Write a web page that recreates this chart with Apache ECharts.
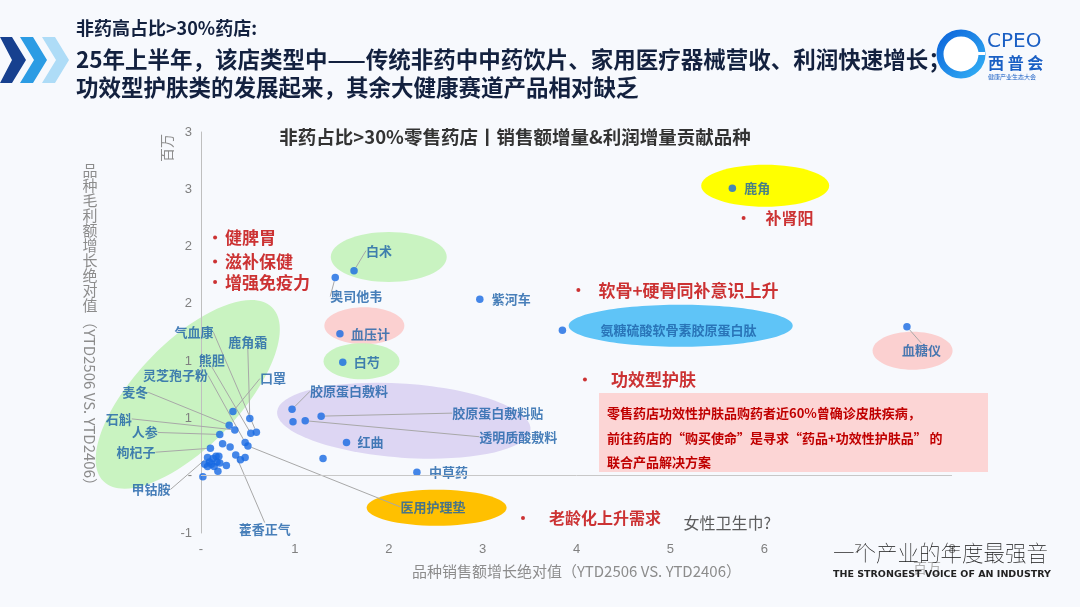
<!DOCTYPE html>
<html>
<head>
<meta charset="utf-8">
<script src="https://cdn.jsdelivr.net/npm/echarts@6/dist/echarts.min.js"></script>
<style>
  html, body { margin: 0; padding: 0; background: #f7f9fd; }
  #chart { width: 1080px; height: 607px; }
</style>
</head>
<body>
<div id="chart"></div>
<script>
// 品种：销售额增长（百万） / 毛利额增长（百万）
const productNames = [
  '鹿角', '白术', '奥司他韦', '紫河车', '血压计', '白芍', '氨糖硫酸软骨素胶原蛋白肽', '血糖仪',
  '中草药', '红曲', '', '胶原蛋白敷料', '', '透明质酸敷料', '胶原蛋白敷料贴',
  '口罩', '鹿角霜', '麦冬', '石斛', '人参', '熊胆', '气血康', '', '', '灵芝孢子粉', '医用护理垫',
  '枸杞子', '藿香正气', '', '', '', '', '甲钴胺', '', '', '', '', '', '', '', '', '', '', ''
];
const salesGrowth = [
  5.66, 1.63, 1.43, 2.97, 1.48, 1.51, 3.85, 7.52,
  2.30, 1.55, 1.30, 0.97, 0.98, 1.11, 1.28,
  0.34, 0.52, 0.30, 0.36, 0.20, 0.53, 0.59, 0.23, 0.31, 0.47, 0.50,
  0.10, 0.37, 0.47, 0.42, 0.27, 0.19, 0.07, 0.13, 0.17, 0.09, 0.04, 0.14, 0.18, 0.11, 0.16, 0.02, 0.07, 0.20
];
const profitGrowth = [
  2.51, 1.79, 1.73, 1.54, 1.24, 0.99, 1.27, 1.30,
  0.03, 0.29, 0.15, 0.58, 0.47, 0.48, 0.52,
  0.56, 0.50, 0.44, 0.40, 0.36, 0.37, 0.38, 0.28, 0.25, 0.29, 0.26,
  0.24, 0.18, 0.16, 0.14, 0.09, 0.17, 0.16, 0.15, 0.12, 0.12, 0.10, 0.08, 0.04, 0.10, 0.17, -0.01, 0.08, 0.11
];

// 红色注释
const noteTexts = ['健脾胃', '滋补保健', '增强免疫力', '补肾阳', '软骨+硬骨同补意识上升', '功效型护肤', '老龄化上升需求', '女性卫生巾?'];
const noteX = [0.15, 0.15, 0.15, 5.78, 4.02, 4.09, 3.43, 5.14];
const noteY = [2.08, 1.87, 1.69, 2.25, 1.62, 0.84, -0.37, -0.41];

// 刻度标签（Excel 四舍五入显示）
const xTickLabels = ['-', '1', '2', '3', '4', '5', '6', '7', '8'];
const yTickLabels = ['-1', '-', '1', '1', '2', '2', '3', '3'];

// 标签相对点的位置 [dx, dy, 对齐, 引导线]
const labelOffsets = {
  '鹿角': [12, 0, 'left'],
  '白术': [12, -20, 'left', true],
  '奥司他韦': [21, 19, 'center', true],
  '紫河车': [12, 0, 'left'],
  '血压计': [11, 0, 'left'],
  '白芍': [11, 0, 'left'],
  '氨糖硫酸软骨素胶原蛋白肽': [116, 0, 'center'],
  '血糖仪': [-5, 23, 'left', true],
  '中草药': [12, 0, 'left'],
  '红曲': [11, 0, 'left'],
  '胶原蛋白敷料': [18, -18, 'left', true],
  '胶原蛋白敷料贴': [131, -3, 'left', true],
  '透明质酸敷料': [174, 16, 'left', true],
  '口罩': [27, -33, 'left', true],
  '鹿角霜': [-2, -76, 'center', true],
  '熊胆': [-26, -73, 'right', true],
  '气血康': [-43, -100, 'right', true],
  '灵芝孢子粉': [-37, -67, 'right', true],
  '麦冬': [-81, -33, 'right', true],
  '石斛': [-103, -11, 'right', true],
  '人参': [-62, -2, 'right', true],
  '枸杞子': [-55, 4, 'right', true],
  '甲钴胺': [-37, 32, 'right', true],
  '藿香正气': [29, 74, 'center', true],
  '医用护理垫': [185, 61, 'center', true]
};

// 高亮椭圆：中心用数据坐标，半径为像素
const highlights = [
  { x: -0.14, y: 0.71, rx: 121, ry: 52, rot: 46, color: '#c9f3c1' },
  { x: 6.01, y: 2.53, rx: 64, ry: 21, color: '#ffff00' },
  { x: 2.00, y: 1.91, rx: 58, ry: 25, color: '#c9f3c1' },
  { x: 1.74, y: 1.31, rx: 40, ry: 18.5, color: '#fbd0d0' },
  { x: 1.71, y: 1.00, rx: 38, ry: 18, color: '#c9f3c1' },
  { x: 5.11, y: 1.31, rx: 112, ry: 21, color: '#5fc4f7' },
  { x: 7.58, y: 1.09, rx: 40, ry: 19, color: '#fbd0d0' },
  { x: 2.16, y: 0.48, rx: 127, ry: 37, rot: -4, color: '#ddd6f3' },
  { x: 2.51, y: -0.28, rx: 70, ry: 18, color: '#ffc000' }
];

const noteLayout = {
  '健脾胃': { distance: 8, fontSize: 17 },
  '滋补保健': { distance: 8, fontSize: 17 },
  '增强免疫力': { distance: 8, fontSize: 17 },
  '补肾阳': { distance: 20, fontSize: 16 },
  '软骨+硬骨同补意识上升': { distance: 18, fontSize: 17 },
  '功效型护肤': { distance: 24, fontSize: 17 },
  '老龄化上升需求': { distance: 24, fontSize: 16 }
};

const CJK = "'Noto Sans CJK SC', sans-serif";
const NUM = "'Liberation Sans', 'Noto Sans CJK SC', sans-serif";

let chart = echarts.init(document.getElementById('chart'));

let productData = productNames.map((n, i) => {
  let off = labelOffsets[n];
  return {
    name: n,
    value: [salesGrowth[i], profitGrowth[i]],
    label: { show: !!n },
    labelLine: { show: !!(off && off[3]) }
  };
});

let noteData = noteTexts.map((t, i) => {
  let lay = noteLayout[t];
  if (!lay) {
    // 无圆点的灰色提示
    return {
      name: t, value: [noteX[i], noteY[i]], symbolSize: 0,
      label: { distance: 0, fontSize: 16, fontWeight: 'normal', color: '#333' }
    };
  }
  return {
    name: t, value: [noteX[i], noteY[i]],
    label: { distance: lay.distance, fontSize: lay.fontSize }
  };
});

let option = {
  backgroundColor: '#f7f9fd',
  animation: false,
  grid: { left: 201, right: 128, top: 132, bottom: 74 },
  xAxis: {
    type: 'value', min: 0, max: 8, interval: 1, z: 3,
    axisLine: { show: false },
    axisTick: { show: false },
    splitLine: { show: false },
    axisLabel: {
      color: '#808080', fontSize: 13, fontFamily: NUM, margin: 10,
      formatter: v => xTickLabels[Math.round(v)]
    },
    name: '品种销售额增长绝对值（YTD2506 VS. YTD2406）',
    nameLocation: 'middle', nameGap: 31,
    nameTextStyle: { color: '#8c8c8c', fontSize: 15, fontFamily: CJK }
  },
  yAxis: {
    type: 'value', min: -0.5, max: 3, interval: 0.5, z: 3,
    axisLine: { show: true, onZero: false, lineStyle: { color: '#bfbfbf', width: 1 } },
    axisTick: { show: false },
    splitLine: { show: false },
    axisLabel: {
      color: '#808080', fontSize: 13, fontFamily: NUM, margin: 9,
      formatter: v => yTickLabels[Math.round((v + 0.5) / 0.5)]
    }
  },
  series: [
    {
      type: 'custom',
      name: 'highlights',
      z: 1, silent: true, clip: false,
      data: highlights.map(h => [h.x, h.y]),
      renderItem(params, api) {
        let h = highlights[params.dataIndex];
        let c = api.coord([api.value(0), api.value(1)]);
        return {
          type: 'ellipse',
          x: c[0], y: c[1],
          rotation: (h.rot || 0) * Math.PI / 180,
          shape: { cx: 0, cy: 0, rx: h.rx, ry: h.ry },
          style: { fill: h.color }
        };
      }
    },
    {
      type: 'scatter',
      name: 'products',
      z: 4,
      symbolSize: 7.5,
      itemStyle: { color: '#1669e2' },
      data: productData,
      label: {
        show: true, position: 'right', formatter: '{b}',
        color: '#1c60a8', fontSize: 13, fontWeight: 'bold', fontFamily: CJK
      },
      labelLine: { show: false, lineStyle: { color: '#a8a8a8', width: 1 } },
      labelLayout(p) {
        let off = labelOffsets[productNames[p.dataIndex]];
        if (!off) return {};
        let cx = p.rect.x + p.rect.width / 2;
        let cy = p.rect.y + p.rect.height / 2;
        return { x: cx + off[0], y: cy + off[1], align: off[2], verticalAlign: 'middle' };
      },
      markLine: {
        silent: true, symbol: 'none', animation: false,
        label: { show: false },
        lineStyle: { color: '#c8c8c8', type: 'solid', width: 1 },
        data: [{ yAxis: 0 }]
      }
    },
    {
      type: 'scatter',
      name: 'notes',
      z: 4, silent: true,
      symbolSize: 4,
      itemStyle: { color: '#c00000' },
      data: noteData,
      label: {
        show: true, position: 'right', formatter: '{b}',
        color: '#c00000', fontWeight: 'bold', fontFamily: CJK
      }
    }
  ],
  graphic: [
    // 左侧箭头
    { type: 'polygon', shape: { points: [[0, 37], [12, 37], [26, 60], [12, 83], [0, 83], [12, 60]] }, style: { fill: '#17408f' } },
    { type: 'polygon', shape: { points: [[20, 37], [33, 37], [47, 60], [33, 83], [20, 83], [34, 60]] }, style: { fill: '#2c9ce4' } },
    { type: 'polygon', shape: { points: [[42, 37], [55, 37], [69, 60], [55, 83], [42, 83], [56, 60]] }, style: { fill: '#aedcf7' } },
    // 标题
    { type: 'text', x: 76, y: 28, style: { text: '非药高占比>30%药店:', fontSize: 18, fontWeight: 'bold', fontFamily: CJK, fill: '#13213f', verticalAlign: 'middle' } },
    { type: 'text', x: 76, y: 59, style: { text: '25年上半年，该店类型中——传统非药中中药饮片、家用医疗器械营收、利润快速增长；', fontSize: 22.5, fontWeight: 'bold', fontFamily: CJK, fill: '#13213f', verticalAlign: 'middle' } },
    { type: 'text', x: 76, y: 87, style: { text: '功效型护肤类的发展起来，其余大健康赛道产品相对缺乏', fontSize: 22.5, fontWeight: 'bold', fontFamily: CJK, fill: '#13213f', verticalAlign: 'middle' } },
    // 徽标
    { type: 'circle', shape: { cx: 961, cy: 54, r: 21 }, z: 10, style: { fill: '#ffffff', stroke: new echarts.graphic.LinearGradient(0, 0, 1, 1, [{ offset: 0, color: '#0a5fd8' }, { offset: 1, color: '#35b4f7' }]), lineWidth: 7 } },
    { type: 'rect', shape: { x: 961, y: 52, width: 24, height: 3 }, z: 10, style: { fill: '#ffffff' } },
    { type: 'text', x: 987, y: 42, z: 10, style: { text: 'CPEO', fontSize: 20, fontFamily: "'DejaVu Sans', sans-serif", fill: '#1a5fc4', verticalAlign: 'middle' } },
    { type: 'text', x: 988, y: 63, z: 10, style: { text: '西 普 会', fontSize: 16, fontWeight: 'bold', fontFamily: CJK, fill: '#1a5fc4', verticalAlign: 'middle' } },
    { type: 'text', x: 988, y: 77, z: 10, style: { text: '健康产业生态大会', fontSize: 6, fontFamily: CJK, fill: '#1a5fc4', verticalAlign: 'middle' } },
    // 图表标题
    { type: 'text', x: 515, y: 137, style: { text: '非药占比>30%零售药店丨销售额增量&利润增量贡献品种', fontSize: 18.5, fontWeight: 'bold', fontFamily: CJK, fill: '#333333', align: 'center', verticalAlign: 'middle' } },
    // 纵轴标题（竖排）
    { type: 'text', x: 90, y: 163, style: { text: '品\n种\n毛\n利\n额\n增\n长\n绝\n对\n值', fontSize: 15, lineHeight: 15, fontFamily: CJK, fill: '#8c8c8c', align: 'center', verticalAlign: 'top' } },
    { type: 'text', x: 90, y: 314, rotation: -Math.PI / 2, style: { text: '（YTD2506 VS. YTD2406）', fontSize: 15, fontFamily: CJK, fill: '#8c8c8c', align: 'left', verticalAlign: 'middle' } },
    // 单位
    { type: 'text', x: 167, y: 148, rotation: Math.PI / 2, style: { text: '百万', fontSize: 14, fontFamily: CJK, fill: '#8c8c8c', align: 'center', verticalAlign: 'middle' } },
    { type: 'text', x: 927, y: 568, style: { text: '百万', fontSize: 14, fontFamily: CJK, fill: '#b0b0b0', align: 'center', verticalAlign: 'middle' } },
    // 红色说明框
    { type: 'rect', shape: { x: 599, y: 393, width: 389, height: 79 }, z: 5, style: { fill: '#fcd5d5' } },
    { type: 'text', x: 607, y: 413, z: 6, style: { text: '零售药店功效性护肤品购药者近60%曾确诊皮肤疾病，', fontSize: 13, fontWeight: 'bold', fontFamily: CJK, fill: '#c00000', verticalAlign: 'middle' } },
    { type: 'text', x: 607, y: 438, z: 6, style: { text: '前往药店的“购买使命”是寻求“药品+功效性护肤品” 的', fontSize: 13, fontWeight: 'bold', fontFamily: CJK, fill: '#c00000', verticalAlign: 'middle' } },
    { type: 'text', x: 607, y: 462, z: 6, style: { text: '联合产品解决方案', fontSize: 13, fontWeight: 'bold', fontFamily: CJK, fill: '#c00000', verticalAlign: 'middle' } },
    // 标语
    { type: 'text', x: 833, y: 553, z: 10, style: { text: '一个产业的年度最强音', fontSize: 21.5, fontWeight: 'lighter', fontFamily: CJK, fill: '#111111', verticalAlign: 'middle' } },
    { type: 'text', x: 833, y: 575, z: 10, style: { text: 'THE STRONGEST VOICE OF AN INDUSTRY', fontSize: 9.5, fontWeight: 'bold', fontFamily: "'DejaVu Sans', sans-serif", fill: '#222222', verticalAlign: 'middle' } }
  ]
};

chart.setOption(option);
</script>
</body>
</html>
